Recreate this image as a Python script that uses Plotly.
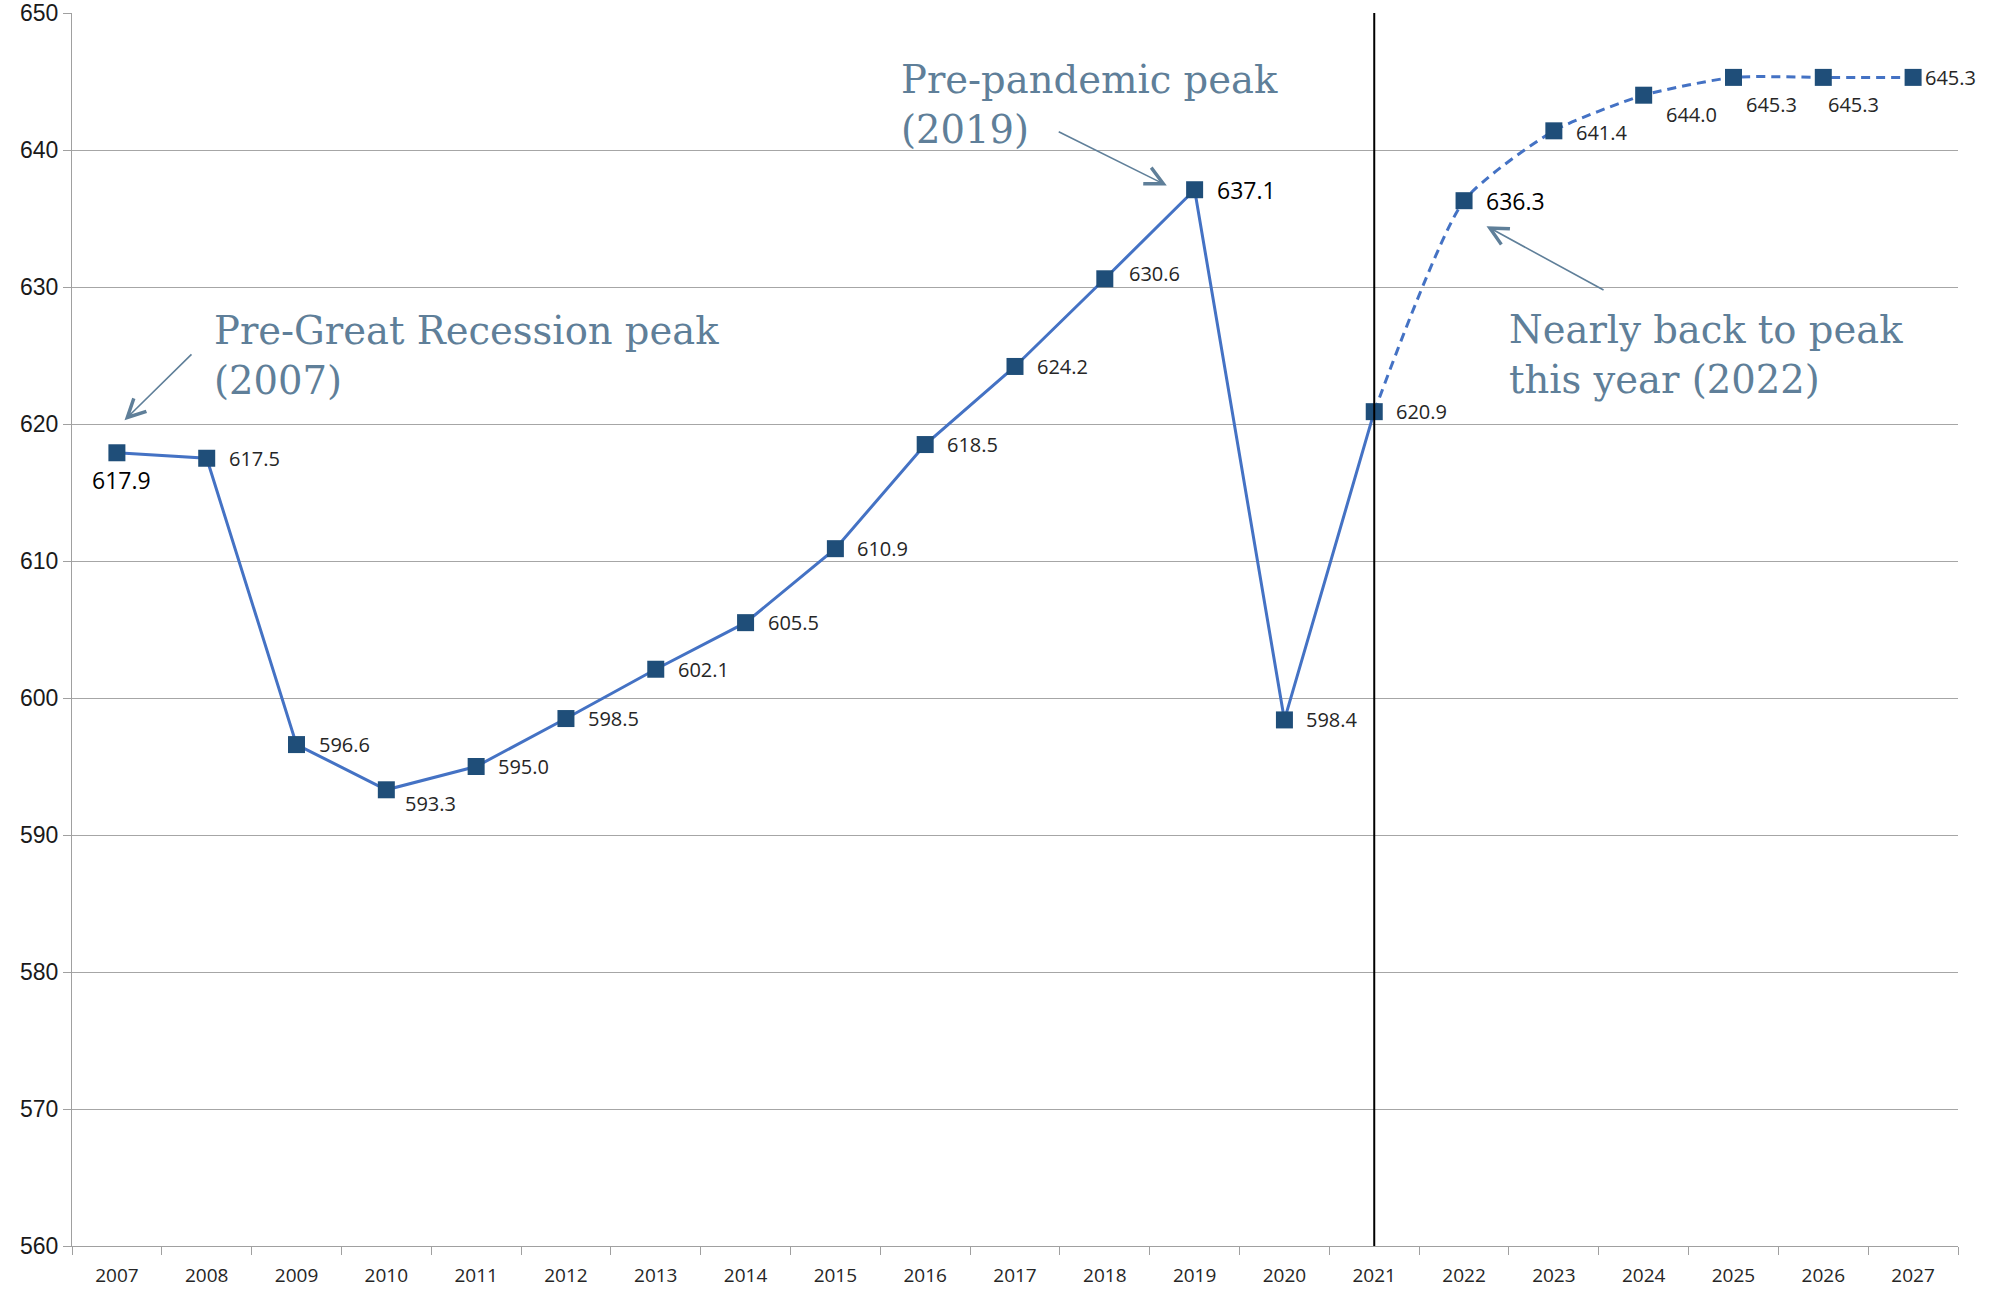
import plotly.graph_objects as go

years = [str(y) for y in range(2007, 2028)]
values = [617.9, 617.5, 596.6, 593.3, 595.0, 598.5, 602.1, 605.5, 610.9, 618.5,
          624.2, 630.6, 637.1, 598.4, 620.9, 636.3, 641.4, 644.0, 645.3, 645.3, 645.3]
actual_end = 14  # index of 2021 (last actual)
y_ticks = list(range(560, 651, 10))

# label placement (xshift, yshift in px, big flag)
label_pos = {
    0: (5, -27, True, "center"),
    3: (17, -14, False, "left"),
    11: (22, 5, False, "left"),
    12: (20, 0, True, "left"),
    15: (20, 0, True, "left"),
    16: (20, -2, False, "left"),
    17: (20, -19, False, "left"),
    18: (11, -27, False, "left"),
    19: (3, -27, False, "left"),
    20: (10, 0, False, "left"),
}

LINE = "#4472C4"
MARK = "#1F4E79"
NOTE = "#5F7F99"

fig = go.Figure()
fig.add_trace(go.Scatter(x=years[:actual_end + 1], y=values[:actual_end + 1], mode="lines",
                         line=dict(color=LINE, width=3), hoverinfo="skip"))
fig.add_trace(go.Scatter(x=years[actual_end:], y=values[actual_end:], mode="lines",
                         line=dict(color=LINE, width=3, dash="9px,6px", shape="spline", smoothing=0.6),
                         hoverinfo="skip"))
fig.add_trace(go.Scatter(x=years, y=values, mode="markers",
                         marker=dict(symbol="square", size=17, color=MARK,
                                     line=dict(width=0))))

annotations = []
for i, (yr, v) in enumerate(zip(years, values)):
    xs, ys, big, anchor = label_pos.get(i, (20, 0, False, "left"))
    annotations.append(dict(
        x=i, y=v, xref="x", yref="y", text=f"{v:.1f}", showarrow=False,
        xanchor=anchor, yanchor="middle", xshift=xs, yshift=ys,
        font=dict(family="Open Sans, Liberation Sans, sans-serif",
                  size=23 if big else 20, color="#000000" if big else "#262626")))

note_font = dict(family="DejaVu Serif, Liberation Serif, serif", size=38.5, color=NOTE)
notes = [
    ("Pre-Great Recession peak<br>(2007)", 1.06, 625.0),
    ("Pre-pandemic peak<br>(2019)", 8.71, 643.3),
    ("Nearly back to peak<br>this year (2022)", 15.48, 625.1),
]
for txt, x, y in notes:
    annotations.append(dict(x=x, y=y, xref="x", yref="y", text=txt, showarrow=False,
                            xanchor="left", yanchor="middle", align="left", font=note_font))

arrows = [
    ((0.085, 620.28), (0.847, 625.19)),
    ((11.69, 637.41), (10.47, 641.39)),
    ((15.25, 634.44), (16.57, 629.72)),
]
for (hx, hy), (tx, ty) in arrows:
    annotations.append(dict(x=hx, y=hy, ax=tx, ay=ty, xref="x", yref="y", axref="x", ayref="y",
                            text="", showarrow=True, arrowhead=5, arrowsize=2.2, arrowwidth=1.6,
                            arrowcolor=NOTE, standoff=0))

fig.update_layout(
    width=1990, height=1289,
    margin=dict(l=72, r=32, t=13, b=43, autoexpand=False),
    plot_bgcolor="white", paper_bgcolor="white",
    showlegend=False,
    annotations=annotations,
    shapes=[dict(type="line", xref="x", yref="paper", x0=actual_end, x1=actual_end, y0=0, y1=1,
                 line=dict(color="black", width=2))],
)
fig.update_xaxes(type="category", categoryorder="array", categoryarray=years,
                 range=[-0.5, len(years) - 0.5], tickson="boundaries", ticks="outside",
                 ticklen=8, tickcolor="#A0A0A0", showline=True, linecolor="#A0A0A0", linewidth=1,
                 showgrid=False, ticklabelstandoff=12, automargin=False,
                 tickfont=dict(family="Open Sans, Liberation Sans, sans-serif", size=19, color="#262626"))
fig.update_yaxes(range=[560, 650], tickvals=y_ticks, ticks="outside", ticklen=8, tickcolor="#A0A0A0",
                 showline=True, linecolor="#A0A0A0", linewidth=1, showgrid=True,
                 gridcolor="#A6A6A6", gridwidth=1, zeroline=False, automargin=False,
                 tickfont=dict(family="Liberation Sans Narrow, Liberation Sans, sans-serif", size=23,
                               color="#1A1A1A"))

fig.write_html("out.html", config={"displayModeBar": False},
               post_script="document.body.style.margin='0';")
